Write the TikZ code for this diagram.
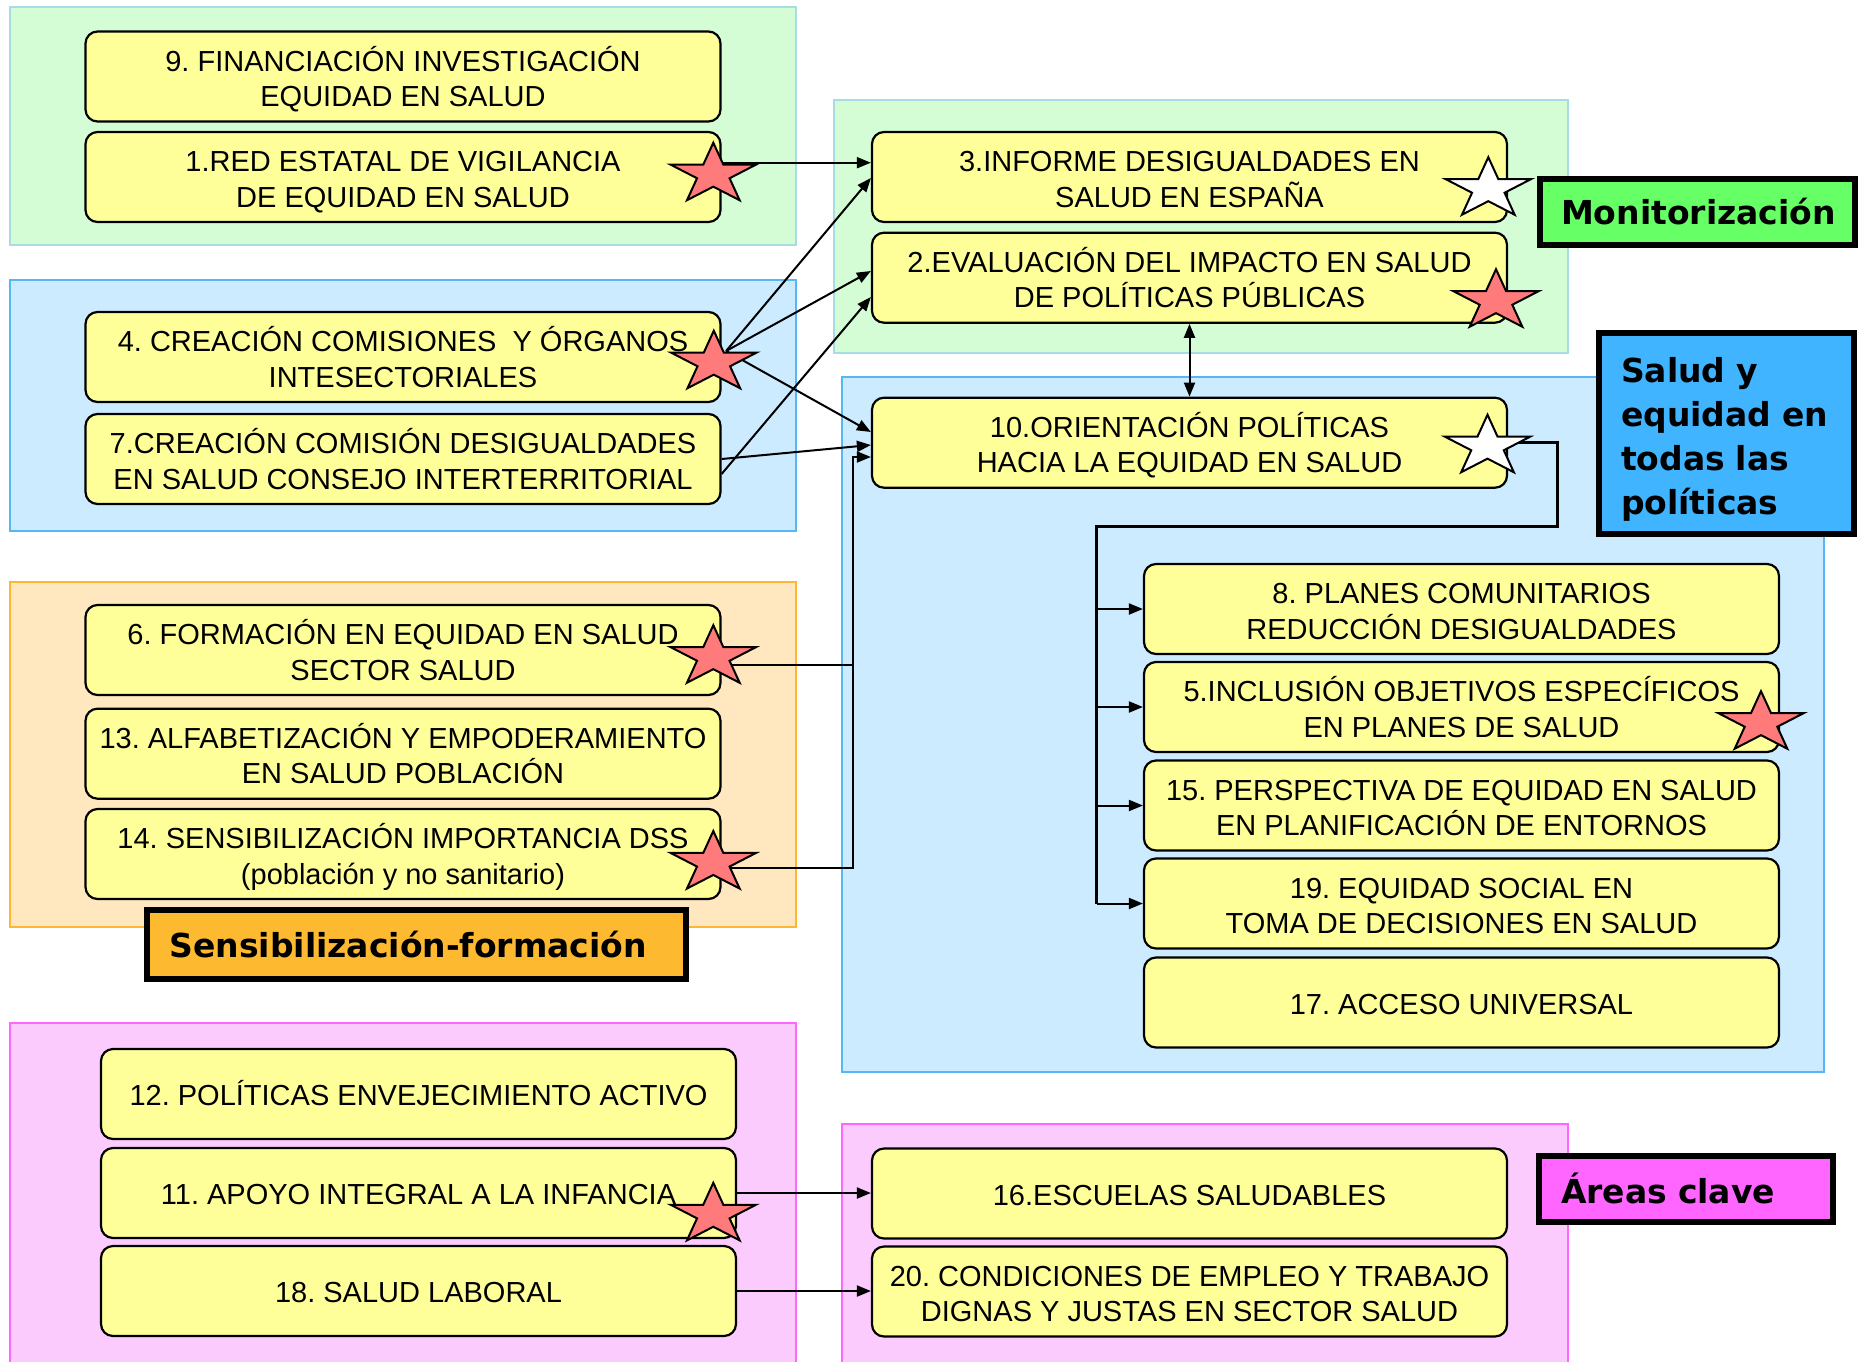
\documentclass[tikz,border=0pt]{standalone}
\usepackage{fontspec}
\setmainfont{Liberation Sans}
\newfontfamily\lblfont{DejaVu Sans}
\usetikzlibrary{shapes.geometric,arrows.meta,calc}
\frenchspacing
\definecolor{nodeyellow}{HTML}{FFFF99}
\definecolor{regGreen}{HTML}{D5FDD5}
\definecolor{regGreenB}{HTML}{A8DCE4}
\definecolor{regBlue}{HTML}{CCEBFE}
\definecolor{regBlueB}{HTML}{55B7F3}
\definecolor{regOrange}{HTML}{FFE8BF}
\definecolor{regOrangeB}{HTML}{FFB733}
\definecolor{regPink}{HTML}{FBCBFD}
\definecolor{regPinkB}{HTML}{FF66FF}
\definecolor{starRed}{HTML}{FF7B7B}
\definecolor{lblGreen}{HTML}{66FF66}
\definecolor{lblBlue}{HTML}{40B4FF}
\definecolor{lblOrange}{HTML}{FDB92F}
\definecolor{lblPink}{HTML}{FF66FF}
\begin{document}
\begin{tikzpicture}[x=1pt,y=1pt,
  box/.style={draw=black, line width=2.2pt, rounded corners=12pt, fill=nodeyellow,
    minimum width=635pt, minimum height=90pt, inner sep=0pt, align=center,
    font=\fontsize{29}{35.5}\selectfont, text height=23.8pt, text depth=0pt},
  boxtwo/.style={box, text height=60.5pt, text depth=0pt},
  region/.style={line width=2pt},
  rstar/.style={star, star points=5, star point ratio=2.618, minimum size=89.6pt,
    inner sep=0pt, draw=black, line width=2pt, fill=starRed, yscale=0.71},
  wstar/.style={rstar, fill=white},
  arr/.style={line width=2pt, -{Triangle[length=14pt,width=11pt]}},
  darr/.style={line width=2pt, {Triangle[length=14pt,width=11pt]}-{Triangle[length=14pt,width=11pt]}},
  lbl/.style={draw=black, line width=6pt, font=\lblfont\bfseries\fontsize{33}{44}\selectfont,
    align=left, inner ysep=0pt}
]
\useasboundingbox (0,0) rectangle (1861,-1361);
\clip (0,0) rectangle (1861,-1361);
\fill[white] (0,0) rectangle (1861,-1361);

% regions
\draw[region, fill=regGreen, draw=regGreenB] (9.5,-7) rectangle (796,-245);
\draw[region, fill=regBlue, draw=regBlueB] (9.5,-280) rectangle (796,-530.5);
\draw[region, fill=regOrange, draw=regOrangeB] (9.5,-581.6) rectangle (796,-927);
\draw[region, fill=regPink, draw=regPinkB] (9.5,-1023) rectangle (796,-1375);
\draw[region, fill=regGreen, draw=regGreenB] (834,-99.7) rectangle (1568,-352.5);
\draw[region, fill=regBlue, draw=regBlueB] (841.5,-377) rectangle (1824,-1072);
\draw[region, fill=regPink, draw=regPinkB] (841.5,-1124) rectangle (1568,-1375);

% nodes left
\node[boxtwo] (n9) at (403,-76.5) {9. FINANCIACIÓN INVESTIGACIÓN\\EQUIDAD EN SALUD};
\node[boxtwo] (n1) at (403,-177) {1.RED ESTATAL DE VIGILANCIA\\DE EQUIDAD EN SALUD};
\node[boxtwo] (n4) at (403,-357) {4. CREACIÓN COMISIONES\ \ Y ÓRGANOS\\INTESECTORIALES};
\node[boxtwo] (n7) at (403,-459) {7.CREACIÓN COMISIÓN DESIGUALDADES\\EN SALUD CONSEJO INTERTERRITORIAL};
\node[boxtwo] (n6) at (403,-650) {6. FORMACIÓN EN EQUIDAD EN SALUD\\SECTOR SALUD};
\node[boxtwo] (n13) at (403,-753.7) {13. ALFABETIZACIÓN Y EMPODERAMIENTO\\EN SALUD POBLACIÓN};
\node[boxtwo] (n14) at (403,-854) {14. SENSIBILIZACIÓN IMPORTANCIA DSS\\(población y no sanitario)};
\node[box] (n12) at (418.5,-1094) {12. POLÍTICAS ENVEJECIMIENTO ACTIVO};
\node[box] (n11) at (418.5,-1193) {11. APOYO INTEGRAL A LA INFANCIA};
\node[box] (n18) at (418.5,-1291) {18. SALUD LABORAL};
% nodes middle/right
\node[boxtwo] (n3) at (1189.5,-177) {3.INFORME DESIGUALDADES EN\\SALUD EN ESPAÑA};
\node[boxtwo] (n2) at (1189.5,-277.7) {2.EVALUACIÓN DEL IMPACTO EN SALUD\\DE POLÍTICAS PÚBLICAS};
\node[boxtwo] (n10) at (1189.5,-442.7) {10.ORIENTACIÓN POLÍTICAS\\HACIA LA EQUIDAD EN SALUD};
\node[boxtwo] (n8) at (1461.5,-609) {8. PLANES COMUNITARIOS\\REDUCCIÓN DESIGUALDADES};
\node[boxtwo] (n5) at (1461.5,-707) {5.INCLUSIÓN OBJETIVOS ESPECÍFICOS\\EN PLANES DE SALUD};
\node[boxtwo] (n15) at (1461.5,-805.5) {15. PERSPECTIVA DE EQUIDAD EN SALUD\\EN PLANIFICACIÓN DE ENTORNOS};
\node[boxtwo] (n19) at (1461.5,-903.5) {19. EQUIDAD SOCIAL EN\\TOMA DE DECISIONES EN SALUD};
\node[box] (n17) at (1461.5,-1002.5) {17. ACCESO UNIVERSAL};
\node[box] (n16) at (1189.5,-1193.5) {16.ESCUELAS SALUDABLES};
\node[boxtwo] (n20) at (1189.5,-1291.5) {20. CONDICIONES DE EMPLEO Y TRABAJO\\DIGNAS Y JUSTAS EN SECTOR SALUD};

% connectors
\draw[arr] ($(n1.east)+(0,14.3)$) -- ($(n3.west)+(0,14.3)$);
\coordinate (s4o) at ($(n4.east)+(4.5,6)$);
\draw[arr] (s4o) -- ($(n3.west)+(0,-1)$);
\draw[arr] (s4o) -- ($(n2.west)+(0,6.7)$);
\draw[arr] (s4o) -- ($(n10.west)+(0,10.7)$);
\draw[arr] ($(n7.east)+(0,-15)$) -- ($(n2.west)+(0,-19.3)$);
\draw[arr] (n7.east) -- ($(n10.west)+(0,-2.3)$);
\coordinate (j6) at ($(n6.east)+(131.5,-15)$);
\draw[arr, line width=1.8pt] ($(n6.east)+(0,-15)$) -- (j6) |- ($(n10.west)+(0,-14.3)$);
\draw[line width=1.8pt] ($(n14.east)+(0,-14)$) -| (j6);
\draw[darr] (n2.south) -- (n10.north);
\coordinate (bus) at (1096.5,-526.7);
\draw[line width=3pt] (n10.east) -- ++(49,0) |- (bus) -- (bus |- n19.west);
\draw[arr] (bus |- n8.west) -- (n8.west);
\draw[arr] (bus |- n5.west) -- (n5.west);
\draw[arr] (bus |- n15.west) -- (n15.west);
\draw[arr] (bus |- n19.west) -- (n19.west);
\draw[arr] (n11.east) -- (n11.east -| n16.west);
\draw[arr] (n18.east) -- (n18.east -| n20.west);

% stars
\node[shift={(713.3,-174.5)}, rstar] (s1) {};
\node[shift={(1488.3,-189)}, wstar] (s3) {};
\node[shift={(1496,-301)}, rstar] (s2) {};
\node[shift={(713.8,-362.5)}, rstar] (s4) {};
\node[shift={(1487.5,-446.5)}, wstar] (s10) {};
\node[shift={(713.3,-657)}, rstar] (s6) {};
\node[shift={(713.3,-862.8)}, rstar] (s14) {};
\node[shift={(1761,-723)}, rstar] (s5) {};
\node[shift={(713.3,-1214.6)}, rstar] (s11) {};

% labels
\node[lbl, fill=lblGreen, minimum height=66pt, text width=273pt, inner xsep=21pt] (lm) at (1697.5,-212) {Monitorización};
\node[lbl, fill=lblBlue, minimum height=201pt, text width=211pt, inner xsep=22pt] (ls) at (1726.5,-433.5) {\rule{0pt}{37pt}Salud y\\equidad en\\todas las\\políticas};
\node[lbl, fill=lblOrange, minimum height=69pt, text width=493.5pt, inner xsep=23pt] (lsf) at (416.25,-944.5) {Sensibilización-formación};
\node[lbl, fill=lblPink, minimum height=66.5pt, text width=250pt, inner xsep=22pt] (la) at (1686,-1188.75) {Áreas clave};
\end{tikzpicture}
\end{document}
